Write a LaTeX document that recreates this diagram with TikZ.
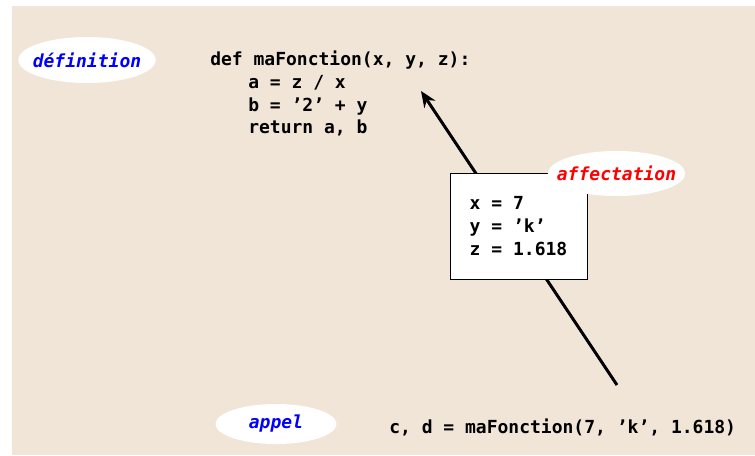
\documentclass[tikz,border=0pt]{standalone}
\usepackage{fontspec}
\setmonofont{DejaVu Sans Mono}[BoldItalicFont={DejaVu Sans Mono Bold Oblique}]
\usepackage{tikz}
\usetikzlibrary{shapes.geometric,arrows.meta,shadows}
\definecolor{PageBg}{HTML}{F1E5D8}
\definecolor{TagBlue}{HTML}{0000FF}
\definecolor{TagRed}{HTML}{FF0000}
\newcommand{\codesize}{\fontsize{13.5}{17}\selectfont}
\tikzset{
  code/.style={font=\ttfamily\bfseries\codesize,text=black,inner sep=0pt,align=left},
  tag/.style={ellipse,fill=white,inner ysep=0pt,font=\ttfamily\bfseries\itshape\codesize},
  argbox/.style={draw=black,fill=white,line width=0.6pt,minimum width=102.75pt,
    minimum height=79.5pt,inner sep=0pt,align=left,font=\ttfamily\bfseries\codesize,
    drop shadow={shadow xshift=0.9pt,shadow yshift=-0.9pt,fill=black!55,opacity=1}},
  link/.style={-{Stealth[length=12pt,width=10pt]},line width=2.2pt},
}

\begin{document}
\begin{tikzpicture}[x=0.75pt,y=-0.75pt]
\useasboundingbox (0,0) rectangle (755,455);
\fill[PageBg] (12,6) rectangle (755,455);

\node[code,anchor=north west] (def) at (210,51)
  {def maFonction(x, y, z):\\
   \hspace*{28.5pt}a = z / x\\
   \hspace*{28.5pt}b = ’2’ + y\\
   \hspace*{28.5pt}return a, b};
\node[code,anchor=west] (call) at (389,427) {c, d = maFonction(7, ’k’, 1.618)};

% passage des arguments
\coordinate (callpt) at (617,385);
\coordinate (defpt) at (421,91);
\draw[link] (callpt) -- (defpt);

\node[argbox] (args) at (518.5,226)
  {x = 7\\y = ’k’\\z = 1.618};

\node[tag,inner xsep=-4.2pt,minimum height=34.5pt,text=TagBlue] (tdef) at (87,60) {définition};
\node[tag,inner xsep=-8.3pt,minimum height=33.75pt,text=TagRed] (taff) at (616.5,173.5) {affectation};
\node[tag,inner xsep=0pt,minimum width=90.75pt,minimum height=30pt,text=TagBlue] (tapp) at (276,424) {appel};
\end{tikzpicture}
\end{document}
